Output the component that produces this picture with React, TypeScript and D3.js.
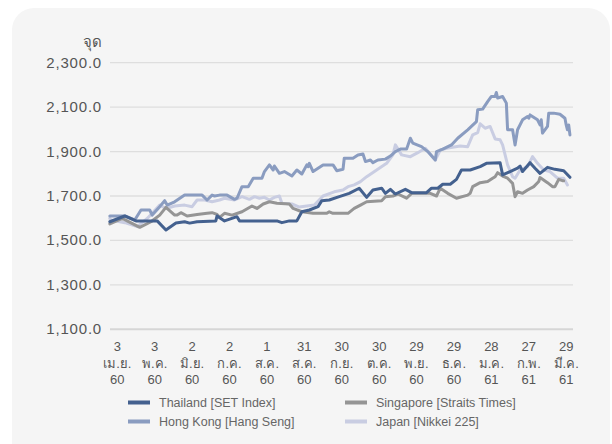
import React from 'react';
import * as d3 from 'd3';

// x: days since 3 Apr 2560 (2017); ticks every 30 days
const tickDays = [0, 30, 60, 90, 120, 150, 180, 210, 240, 270, 300, 330, 360];
const tickDayLabels = ['3', '3', '2', '2', '1', '31', '30', '30', '29', '29', '28', '27', '29'];
const tickMonthLabels = ['เม.ย.', 'พ.ค.', 'มิ.ย.', 'ก.ค.', 'ส.ค.', 'ส.ค.', 'ก.ย.', 'ต.ค.', 'พ.ย.', 'ธ.ค.', 'ม.ค.', 'ก.พ.', 'มี.ค.'];
const tickYearLabels = ['60', '60', '60', '60', '60', '60', '60', '60', '60', '60', '61', '61', '61'];
const yTicks = [1100, 1300, 1500, 1700, 1900, 2100, 2300];
const yUnit = 'จุด';

const seriesNames = ['Thailand [SET Index]', 'Singapore [Straits Times]', 'Hong Kong [Hang Seng]', 'Japan [Nikkei 225]'];

const thailand: [number, number][] = [
  [-6, 1584], [6, 1610], [15, 1588], [32, 1588], [39, 1547], [47, 1578], [54, 1584], [58, 1578], [64, 1584],
  [79, 1588], [80, 1610], [86, 1588], [96, 1607], [98, 1588], [128, 1588], [132, 1580], [138, 1588], [144, 1588],
  [148, 1629], [154, 1637], [161, 1652], [164, 1679], [170, 1682], [178, 1697], [186, 1712], [194, 1735],
  [200, 1694], [205, 1727], [212, 1735], [215, 1712], [219, 1730], [223, 1709], [231, 1730], [236, 1715],
  [248, 1715], [252, 1735], [257, 1735], [261, 1753], [267, 1753], [272, 1775], [276, 1817], [283, 1817],
  [291, 1832], [296, 1847], [307, 1850], [309, 1795], [315, 1810], [321, 1825], [323, 1835], [325, 1810],
  [331, 1850], [335, 1825], [339, 1802], [345, 1829], [351, 1820], [358, 1814], [363, 1784],
];

const singapore: [number, number][] = [
  [-6, 1574], [4, 1599], [18, 1559], [27, 1584], [34, 1614], [39, 1649], [46, 1614], [48, 1614], [51, 1625],
  [56, 1610], [64, 1617], [72, 1622], [76, 1625], [80, 1617], [82, 1604], [86, 1622], [92, 1614], [100, 1629],
  [108, 1655], [112, 1644], [117, 1664], [122, 1674], [128, 1667], [138, 1664], [141, 1644], [148, 1629],
  [157, 1622], [168, 1622], [170, 1629], [173, 1622], [185, 1622], [190, 1644], [195, 1659], [200, 1674],
  [212, 1679], [215, 1697], [221, 1700], [225, 1709], [232, 1690], [236, 1712], [251, 1712], [256, 1700],
  [259, 1735], [265, 1712], [272, 1690], [281, 1704], [283, 1712], [285, 1742], [291, 1760], [297, 1765],
  [301, 1780], [303, 1787], [305, 1805], [309, 1790], [313, 1780], [317, 1757], [319, 1697], [321, 1719],
  [325, 1712], [329, 1727], [334, 1742], [338, 1765], [339, 1783], [345, 1760], [349, 1742], [351, 1742],
  [354, 1775], [357, 1769], [358, 1769],
];

const hongKong: [number, number][] = [
  [-6, 1610], [6, 1610], [14, 1592], [19, 1637], [26, 1637], [28, 1614], [34, 1652], [38, 1679], [40, 1659],
  [46, 1674], [54, 1704], [68, 1704], [72, 1682], [76, 1704], [78, 1700], [82, 1704], [88, 1704], [94, 1685],
  [96, 1690], [100, 1742], [105, 1742], [109, 1780], [116, 1780], [118, 1810], [122, 1840], [125, 1817],
  [126, 1835], [130, 1802], [134, 1810], [140, 1790], [144, 1817], [148, 1799], [152, 1840], [153, 1832],
  [154, 1847], [157, 1810], [161, 1825], [165, 1840], [173, 1840], [176, 1814], [181, 1820], [182, 1870],
  [189, 1870], [193, 1885], [197, 1889], [199, 1855], [203, 1862], [205, 1850], [209, 1862], [215, 1866],
  [219, 1880], [223, 1900], [227, 1911], [232, 1911], [235, 1960], [237, 1938], [244, 1922], [249, 1900],
  [255, 1862], [256, 1900], [261, 1911], [268, 1930], [273, 1960], [281, 1998], [288, 2035], [289, 2088],
  [293, 2091], [297, 2125], [300, 2148], [303, 2148], [304, 2166], [305, 2141], [309, 2148], [312, 2118],
  [313, 1998], [317, 1998], [319, 1930], [321, 1998], [325, 2043], [329, 2058], [330, 2050], [331, 2065],
  [337, 2043], [339, 2020], [340, 2043], [341, 1983], [345, 2013], [346, 2073], [350, 2073], [355, 2068],
  [359, 2050], [360, 2020], [361, 1998], [362, 2020], [363, 1975],
];

const japan: [number, number][] = [
  [-6, 1599], [-5, 1592], [6, 1580], [16, 1562], [24, 1599], [34, 1659], [39, 1644], [46, 1655], [54, 1659],
  [60, 1652], [64, 1682], [70, 1682], [76, 1674], [82, 1682], [86, 1690], [94, 1682], [100, 1697], [106, 1685],
  [110, 1697], [114, 1690], [118, 1694], [122, 1682], [126, 1694], [130, 1700], [132, 1667], [140, 1664],
  [146, 1650], [158, 1659], [165, 1700], [174, 1719], [181, 1727], [185, 1742], [190, 1750], [195, 1765],
  [200, 1787], [208, 1817], [216, 1847], [221, 1885], [223, 1930], [228, 1885], [235, 1877], [241, 1895],
  [247, 1915], [255, 1862], [259, 1907], [264, 1915], [275, 1925], [281, 1922], [285, 1975], [289, 1985],
  [291, 2025], [295, 2005], [299, 2013], [303, 1957], [307, 1953], [309, 1930], [313, 1840], [317, 1787],
  [319, 1780], [323, 1817], [329, 1832], [333, 1877], [337, 1847], [342, 1817], [347, 1810], [353, 1780],
  [358, 1780], [361, 1750],
];

const seriesData = [thailand, singapore, hongKong, japan];
const seriesColors = ['#44618f', '#959595', '#8a9cc0', '#c9cde2'];
const drawOrder = [3, 2, 1, 0];

const FONT = '"Liberation Sans", Arial, Helvetica, sans-serif';

export default function App() {
  const x = d3.scaleLinear().domain([0, 360]).range([117.3, 566.2]);
  const y = d3.scaleLinear().domain([1100, 2300]).range([329.3, 62.7]);
  const line = d3
    .line<[number, number]>()
    .x((d) => x(d[0]))
    .y((d) => y(d[1]));
  const fmt = d3.format(',.1f');

  const legendPos = [
    [128, 402.5],
    [345, 402.5],
    [128, 421.5],
    [345, 421.5],
  ];

  return (
    <svg
      width={612}
      height={444}
      style={{ position: 'absolute', left: 0, top: 0, display: 'block' }}
      fontFamily={FONT}
    >
      <rect x={0} y={0} width={612} height={444} fill="#ffffff" />
      <rect x={12} y={8} width={598} height={520} rx={22} fill="#f5f5f5" />

      {yTicks.map((t) => (
        <g key={t}>
          <line
            x1={110}
            x2={573}
            y1={y(t)}
            y2={y(t)}
            stroke={t === 1100 ? '#d6d6d6' : '#dedede'}
            strokeWidth={t === 1100 ? 2 : 1.3}
          />
          <text x={102} y={y(t) + 5} textAnchor="end" fontSize={15} fill="#555" letterSpacing={0.8}>
            {fmt(t)}
          </text>
        </g>
      ))}
      <text x={102} y={47} textAnchor="end" fontSize={15} fill="#555">
        {yUnit}
      </text>

      {tickDays.map((d, i) => (
        <g key={d} fontSize={13} fill="#555" textAnchor="middle">
          <text x={x(d)} y={351}>{tickDayLabels[i]}</text>
          <text x={x(d)} y={367.5}>{tickMonthLabels[i]}</text>
          <text x={x(d)} y={384}>{tickYearLabels[i]}</text>
        </g>
      ))}

      {drawOrder.map((i) => (
        <path
          key={i}
          d={line(seriesData[i]) || ''}
          fill="none"
          stroke={seriesColors[i]}
          strokeWidth={3}
          strokeLinejoin="round"
          strokeLinecap="round"
        />
      ))}

      {seriesNames.map((name, i) => (
        <g key={name}>
          <rect x={legendPos[i][0]} y={legendPos[i][1] - 2} width={22} height={4} fill={seriesColors[i]} />
          <text x={legendPos[i][0] + 31} y={legendPos[i][1] + 4.5} fontSize={12.5} fill="#666">
            {name}
          </text>
        </g>
      ))}
    </svg>
  );
}
